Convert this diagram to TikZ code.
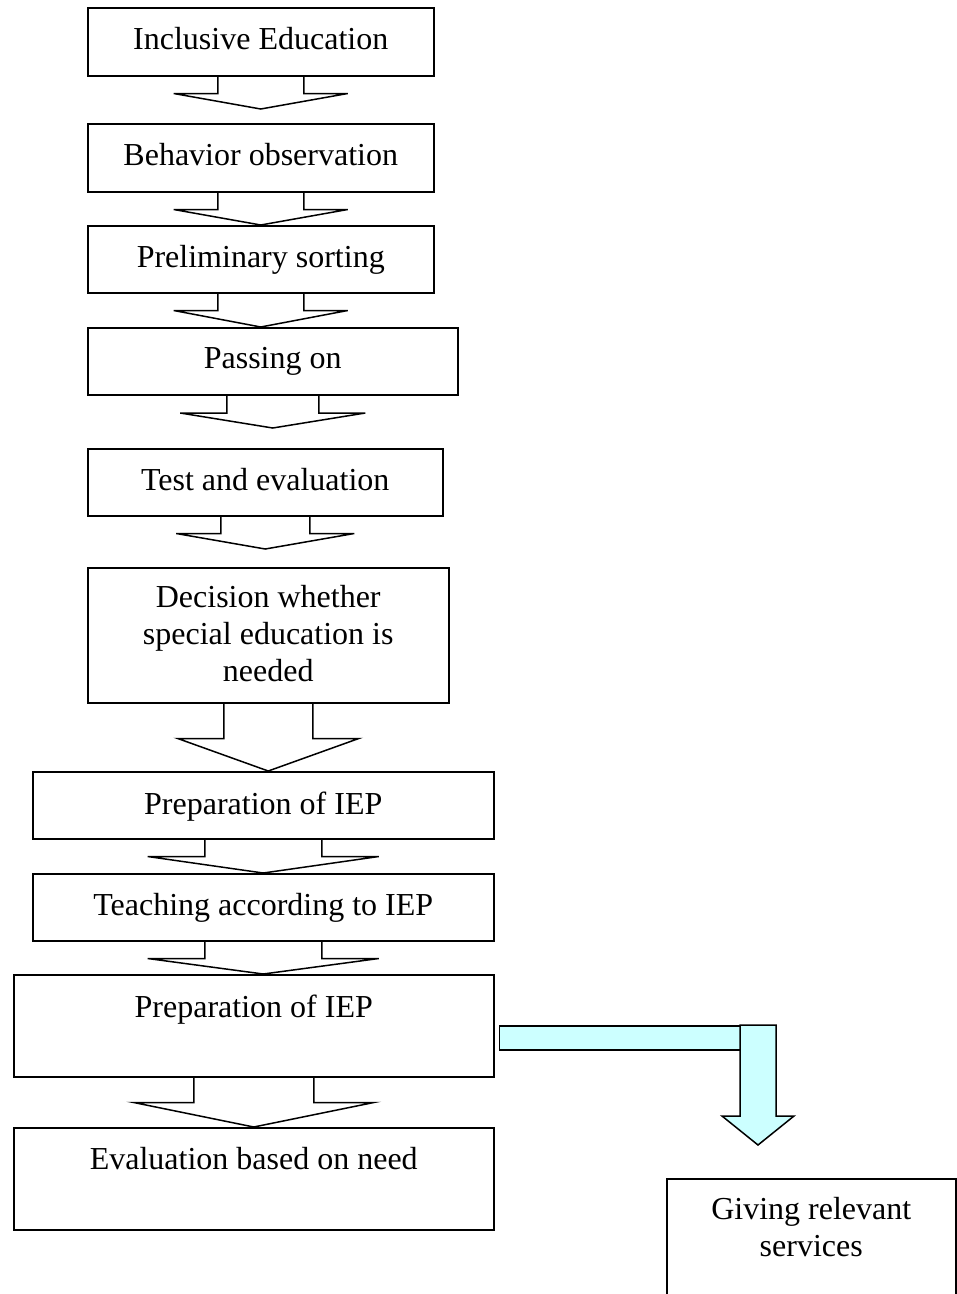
\documentclass[tikz,border=0pt]{standalone}
\usepackage{fontspec}
\setmainfont{Liberation Serif}
\usetikzlibrary{calc}
\definecolor{lcyan}{RGB}{204,255,255}
% #1 from, #2 to, #3 shaft half width, #4 wing half width, #5 shaft length, #6 gap above target
\newcommand\blockar[6]{%
  \draw[blockarr] let \p1=(#1.south), \p2=(#2.north) in
    (\x1-#3pt,\y1) -- (\x1-#3pt,\y1-#5pt) -- (\x1-#4pt,\y1-#5pt) -- (\x1,\y2+#6pt)
    -- (\x1+#4pt,\y1-#5pt) -- (\x1+#3pt,\y1-#5pt) -- (\x1+#3pt,\y1);}
\begin{document}
\begin{tikzpicture}[x=1pt,y=-1pt,line width=1.5pt,
  box/.style={draw,rectangle,inner sep=0pt,anchor=north west},
  lbl/.style={anchor=north,inner sep=0pt,align=center,font=\fontsize{32}{37}\selectfont},
  blockarr/.style={draw,line join=miter},
  cyanarr/.style={draw,fill=lcyan,line join=miter}]
\clip (0,0) rectangle (957,1294);
% boxes
\node[box,minimum width=346pt,minimum height=68pt] (b1) at (87,7) {};
\node[box,minimum width=346pt,minimum height=68pt] (b2) at (87,123) {};
\node[box,minimum width=346pt,minimum height=67pt] (b3) at (87,225) {};
\node[box,minimum width=370pt,minimum height=67pt] (b4) at (87,327) {};
\node[box,minimum width=355pt,minimum height=67pt] (b5) at (87,448) {};
\node[box,minimum width=361pt,minimum height=135pt] (b6) at (87,567) {};
\node[box,minimum width=461pt,minimum height=67pt] (b7) at (32,771) {};
\node[box,minimum width=461pt,minimum height=67pt] (b8) at (32,873) {};
\node[box,minimum width=480pt,minimum height=102pt] (b9) at (13,974) {};
\node[box,minimum width=480pt,minimum height=102pt] (b10) at (13,1127) {};
\node[box,minimum width=289pt,minimum height=140pt] (b11) at (666,1178) {};
% labels
\node[lbl] (t1) at ($(b1.north)+(0,20)$) {Inclusive Education};
\node[lbl] (t2) at ($(b2.north)+(0,20)$) {Behavior observation};
\node[lbl] (t3) at ($(b3.north)+(0,20)$) {Preliminary sorting};
\node[lbl] (t4) at ($(b4.north)+(0,20)$) {Passing on};
\node[lbl] (t5) at ($(b5.north)+(0,20)$) {Test and evaluation};
\node[lbl] (t6) at ($(b6.north)+(0,18)$) {Decision whether\\special education is\\needed};
\node[lbl] (t7) at ($(b7.north)+(0,20)$) {Preparation of IEP};
\node[lbl] (t8) at ($(b8.north)+(0,20)$) {Teaching according to IEP};
\node[lbl] (t9) at ($(b9.north)+(0,20)$) {Preparation of IEP};
\node[lbl] (t10) at ($(b10.north)+(0,20)$) {Evaluation based on need};
\node[lbl] (t11) at ($(b11.north)+(0,19)$) {Giving relevant\\services};
% block arrows
\blockar{b1}{b2}{43}{87}{17}{14}
\blockar{b2}{b3}{43}{87}{17}{0}
\blockar{b3}{b4}{43}{87}{17}{0}
\blockar{b4}{b5}{46}{92.5}{17.5}{20}
\blockar{b5}{b6}{44.5}{89}{17}{18}
\blockar{b6}{b7}{44.5}{90.5}{35}{0}
\blockar{b7}{b8}{58.5}{115.5}{17}{0}
\blockar{b8}{b9}{58.5}{115.5}{17}{0}
\blockar{b9}{b10}{60}{120}{25}{0}
% cyan bent arrow
\coordinate (cs) at ($(b9.east)+(5,0)$);
\coordinate (ctip) at (758,1145);
\draw[cyanarr] (cs) rectangle ($(cs)+(250,24)$);
\draw[cyanarr] ($(ctip)+(-18,-120)$) -- ($(ctip)+(18,-120)$) -- ($(ctip)+(18,-29)$)
  -- ($(ctip)+(36,-29)$) -- (ctip) -- ($(ctip)+(-36,-29)$) -- ($(ctip)+(-18,-29)$) -- cycle;
\end{tikzpicture}
\end{document}
